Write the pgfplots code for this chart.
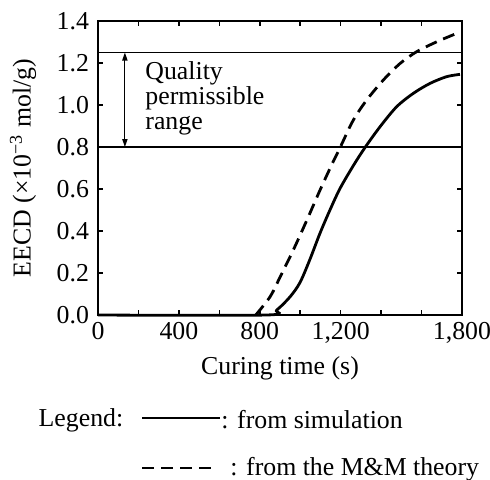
\documentclass[border=0pt]{standalone}
\usepackage{pgfplots}
\pgfplotsset{compat=1.18}
\usepackage{fontspec}
\setmainfont{Liberation Serif}
\usetikzlibrary{arrows.meta}
\begin{document}
\begin{tikzpicture}
\fontsize{12.9}{13}\selectfont
\path[use as bounding box] (-49pt,-82pt) rectangle (196pt,157.5pt);
\begin{axis}[
  at={(0,0)}, anchor=south west,
  scale only axis, width=182pt, height=147pt,
  xmin=0, xmax=1800, ymin=0, ymax=1.4,
  xtick={0,200,...,1800},
  xticklabels={0,,400,,800,,1{,}200,,,1{,}800},
  ytick={0,0.2,...,1.4},
  yticklabels={0.0,0.2,0.4,0.6,0.8,1.0,1.2,1.4},
  tick align=inside, tick pos=both,
  major tick length=2.5pt,
  every tick/.style={black, line width=0.8pt},
  axis line style={line width=1.3pt},
  /pgf/number format/assume math mode=true,
  tick label style={font=\fontsize{12.9}{14}\selectfont},
  xticklabel style={yshift=1pt},
  xlabel={Curing time (s)},
  ylabel={EECD (×10\textsuperscript{−3} mol/g)},
  label style={font=\fontsize{12.9}{14}\selectfont},
  xlabel style={yshift=2pt},
  ylabel style={yshift=1.5pt},
  clip=false,
]
\addplot[black, line width=0.7pt] coordinates {(0,1.25) (1800,1.25)};
\addplot[black, line width=0.7pt] coordinates {(0,0.8) (1800,0.8)};
\addplot[black, line width=0.6pt, {Triangle[length=4pt,width=2.6pt]}-{Triangle[length=4pt,width=2.6pt]}] coordinates {(133,1.25) (133,0.8)};
\node[anchor=west, align=left, font=\fontsize{12.9}{12.5}\selectfont] at (axis cs:190,1.033) {Quality\\permissible\\range};
% simulation
\addplot[black, line width=1.4pt, smooth] coordinates {
(0,0) (830,0) (884,0.024) (950,0.087) (999,0.155) (1048,0.265) (1098,0.39)
(1147,0.5) (1197,0.603) (1263,0.712) (1320,0.797) (1395,0.897) (1477,0.992)
(1560,1.056) (1642,1.103) (1724,1.135) (1790,1.146)};
% M&M theory
\addplot[black, line width=1.4pt, smooth, dash pattern=on 6pt off 3.5pt] coordinates {
(780,0) (851,0.087) (900,0.18) (966,0.31) (1032,0.45) (1098,0.595) (1155,0.714)
(1197,0.797) (1263,0.929) (1329,1.024) (1411,1.119) (1494,1.198) (1576,1.254)
(1675,1.301) (1774,1.341) (1790,1.345)};
\end{axis}
\node at (-8.5pt,-52.5pt) {Legend:};
\draw[black, line width=1.4pt] (22pt,-51.5pt) -- (61pt,-51.5pt);
\node[anchor=west, inner sep=0pt] at (61.5pt,-52.5pt) {: from simulation};
\draw[black, line width=1.4pt, dash pattern=on 6pt off 3.5pt] (22pt,-76.5pt) -- (57pt,-76.5pt);
\node[anchor=west, inner sep=0pt] at (66pt,-77pt) {: from the M\&M theory};
\end{tikzpicture}
\end{document}
